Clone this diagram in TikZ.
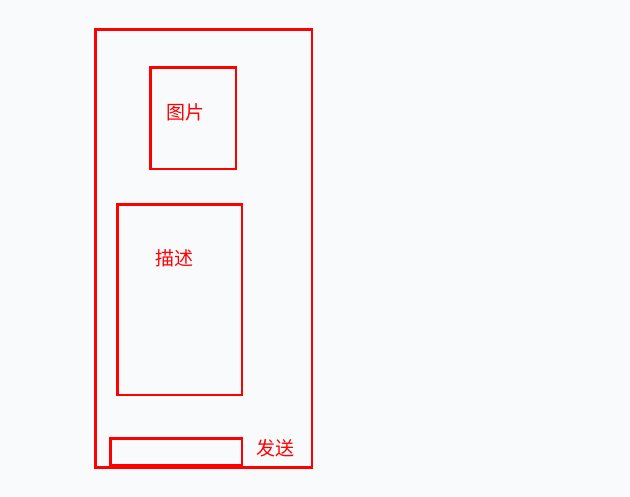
\documentclass[tikz,border=0pt]{standalone}
\usepackage{fontspec}
\newfontfamily\cjk{Noto Sans CJK SC}
\definecolor{bg}{HTML}{F8FAFC}
\definecolor{boxred}{HTML}{FF0000}
\begin{document}
\begin{tikzpicture}[x=1pt,y=-1pt,
  box/.style={draw=boxred,line width=2.6pt},
  lbl/.style={text=boxred,font=\cjk\fontsize{19}{21}\selectfont,inner sep=0pt}]
\fill[bg] (0,0) rectangle (630,496);
\useasboundingbox (0,0) rectangle (630,496);
\draw[box] (95.5,29.5) rectangle (312,467.5);
\draw[box] (150.5,67.5) rectangle (236,169);
\node[lbl] (pic) at (185,112) {图片};
\draw[box] (117.5,204.5) rectangle (242,395);
\node[lbl] (desc) at (174,258) {描述};
\draw[box] (110.5,438.5) rectangle (242,465.5);
\node[lbl] (send) at (275,448) {发送};
\end{tikzpicture}
\end{document}
